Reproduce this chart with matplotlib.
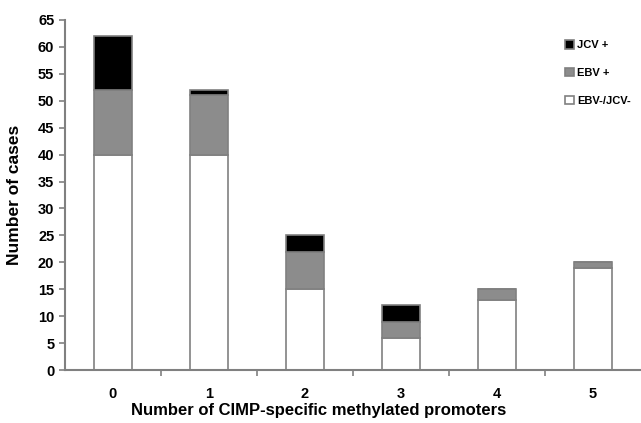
import matplotlib
matplotlib.use("Agg")
import matplotlib.pyplot as plt
import numpy as np

categories = ["0", "1", "2", "3", "4", "5"]
neg = [40, 40, 15, 6, 13, 19]
ebv = [12, 11, 7, 3, 2, 1]
jcv = [10, 1, 3, 3, 0, 0]

plt.rcParams['font.family'] = ['Liberation Sans', 'DejaVu Sans']
plt.rcParams['font.weight'] = 'bold'

fig = plt.figure(figsize=(6.41, 4.23), dpi=100)
ax = fig.add_axes([0.101, 0.125, 0.899, 0.828])

x = np.arange(len(categories))
edge = '#808080'
w = 0.4
ax.bar(x, neg, w, color='white', edgecolor=edge, linewidth=1.2, label='EBV-/JCV-')
ax.bar(x, ebv, w, bottom=neg, color='#8c8c8c', edgecolor=edge, linewidth=1.2, label='EBV +')
bottom2 = np.array(neg) + np.array(ebv)
ax.bar(x, jcv, w, bottom=bottom2, color='black', edgecolor=edge, linewidth=1.2, label='JCV +')

ax.set_xlim(-0.5, 5.5)
ax.set_ylim(0, 65)
ax.set_yticks(range(0, 66, 5))
ax.set_xticks(x)
ax.set_xticklabels(categories)
ax.set_xticks(np.arange(-0.5, 5.6, 1.0)[1:-1], minor=True)
ax.tick_params(axis='x', which='major', length=0, pad=12, labelsize=10.5)
ax.tick_params(axis='x', which='minor', length=4, direction='out', color=edge, width=1.2)
ax.tick_params(axis='y', length=4, direction='out', color=edge, width=1.2, labelsize=10.5)

for s in ['top', 'right']:
    ax.spines[s].set_visible(False)
for s in ['left', 'bottom']:
    ax.spines[s].set_color(edge)
    ax.spines[s].set_linewidth(1.5)

ax.set_xlabel('Number of CIMP-specific methylated promoters', fontsize=12, fontweight='bold')
ax.xaxis.set_label_coords(0.44, -0.095)
ax.set_ylabel('Number of cases', fontsize=12.5, fontweight='bold')
ax.yaxis.set_label_coords(-0.075, 0.5)

handles, labels = ax.get_legend_handles_labels()
leg = ax.legend(handles[::-1], labels[::-1], loc='upper left', bbox_to_anchor=(0.86, 0.955),
                frameon=False, fontsize=8, handlelength=0.8, handleheight=0.8,
                labelspacing=1.6, handletextpad=0.3, borderaxespad=0)
for t in leg.get_texts():
    t.set_fontweight('bold')

fig.savefig('out.png', dpi=100)
